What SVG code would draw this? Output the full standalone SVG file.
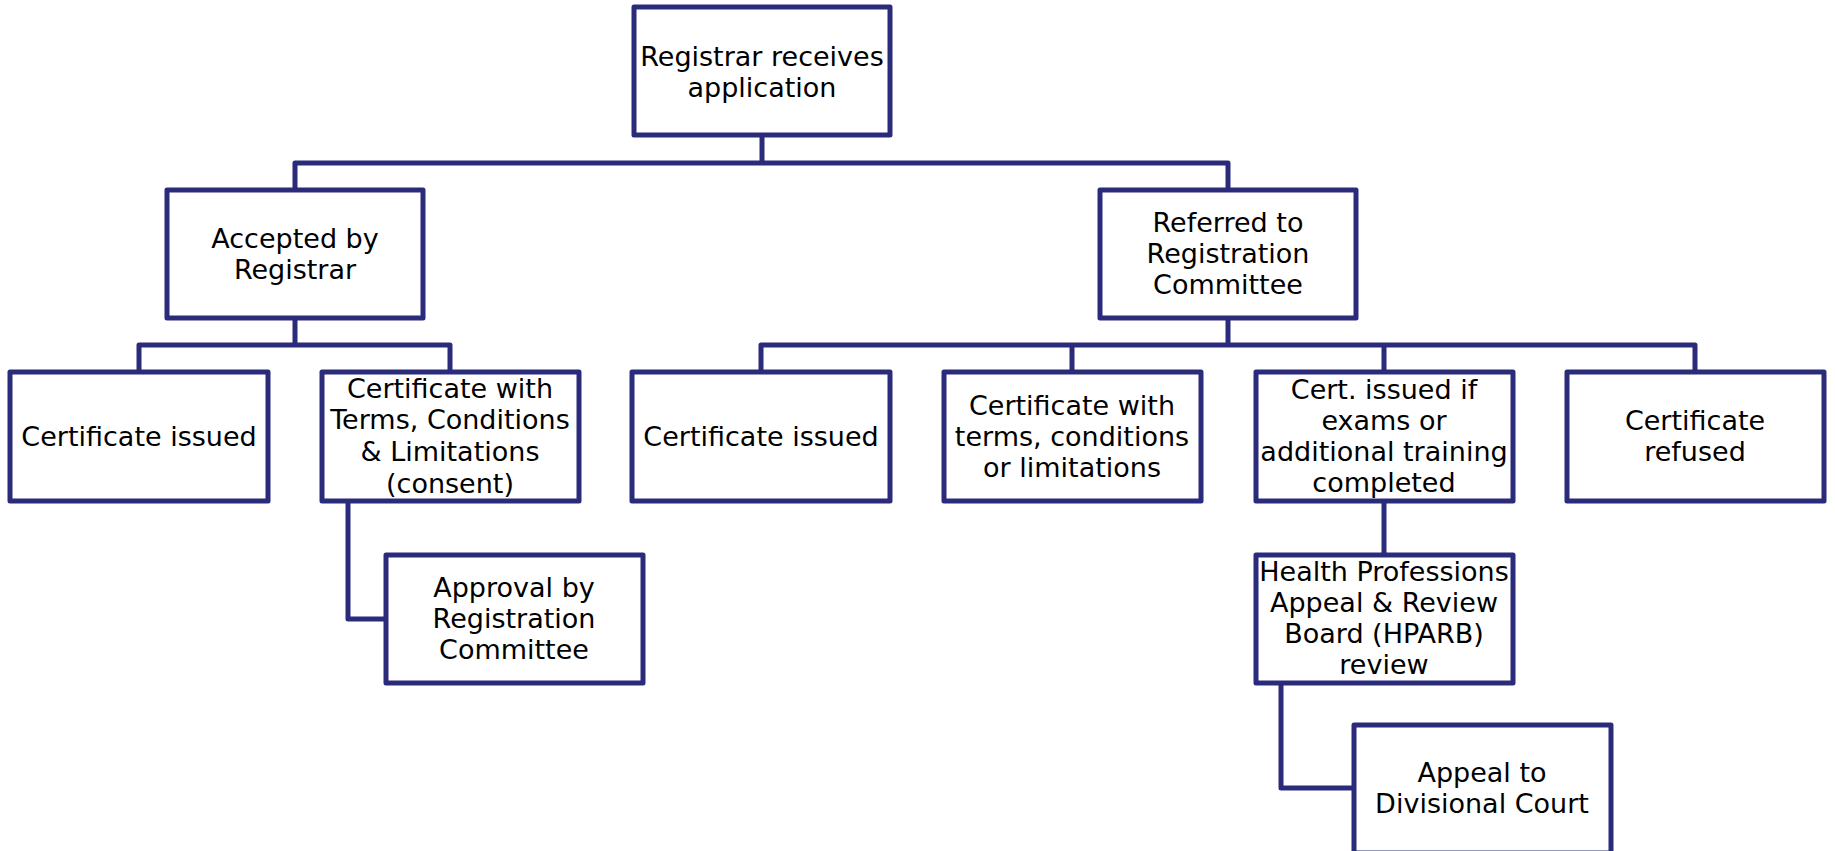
<svg xmlns="http://www.w3.org/2000/svg" width="1835" height="851" viewBox="0 0 1835 851">
<style>
.box{fill:#fff;stroke:#2b2b7c;stroke-width:5;stroke-linejoin:round}
.con{fill:none;stroke:#2b2b7c;stroke-width:5;stroke-linejoin:round}
text{font-family:"DejaVu Sans",sans-serif;font-size:27px;fill:#000;text-anchor:middle}
</style>
<rect width="1835" height="851" fill="#fff"/>
<g id="connectors">
<path class="con" d="M762 135V163M295 190V163H1228V190"/>
<path class="con" d="M295 318V345M139 372V345H450V372"/>
<path class="con" d="M1228 318V345M761 372V345H1695V372M1072 345V372M1384 345V372"/>
<path class="con" d="M348 501V619H386"/>
<path class="con" d="M1384 501V555"/>
<path class="con" d="M1281 683V788H1354"/>
</g>
<g id="n-top"><rect class="box" x="634" y="7" width="256" height="128"/>
<text x="762" y="66">Registrar receives</text><text x="762" y="97">application</text></g>
<g id="n-accepted"><rect class="box" x="167" y="190" width="256" height="128"/>
<text x="295" y="248">Accepted by</text><text x="295" y="279">Registrar</text></g>
<g id="n-referred"><rect class="box" x="1100" y="190" width="256" height="128"/>
<text x="1228" y="232">Referred to</text><text x="1228" y="263">Registration</text><text x="1228" y="294">Committee</text></g>
<g id="n-ci1"><rect class="box" x="10" y="372" width="258" height="129"/>
<text x="139" y="446">Certificate issued</text></g>
<g id="n-tcl"><rect class="box" x="322" y="372" width="257" height="129"/>
<text x="450" y="398">Certificate with</text><text x="450" y="429">Terms, Conditions</text><text x="450" y="461">&amp; Limitations</text><text x="450" y="493">(consent)</text></g>
<g id="n-ci2"><rect class="box" x="632" y="372" width="258" height="129"/>
<text x="761" y="446">Certificate issued</text></g>
<g id="n-cwt"><rect class="box" x="944" y="372" width="257" height="129"/>
<text x="1072" y="415">Certificate with</text><text x="1072" y="446">terms, conditions</text><text x="1072" y="477">or limitations</text></g>
<g id="n-exams"><rect class="box" x="1256" y="372" width="257" height="129"/>
<text x="1384" y="399">Cert. issued if</text><text x="1384" y="430">exams or</text><text x="1384" y="461">additional training</text><text x="1384" y="492">completed</text></g>
<g id="n-refused"><rect class="box" x="1567" y="372" width="257" height="129"/>
<text x="1695" y="430">Certificate</text><text x="1695" y="461">refused</text></g>
<g id="n-approval"><rect class="box" x="386" y="555" width="257" height="128"/>
<text x="514" y="597">Approval by</text><text x="514" y="628">Registration</text><text x="514" y="659">Committee</text></g>
<g id="n-hparb"><rect class="box" x="1256" y="555" width="257" height="128"/>
<text x="1384" y="581">Health Professions</text><text x="1384" y="612">Appeal &amp; Review</text><text x="1384" y="643">Board (HPARB)</text><text x="1384" y="674">review</text></g>
<g id="n-appeal"><rect class="box" x="1354" y="725" width="257" height="128"/>
<text x="1482" y="782">Appeal to</text><text x="1482" y="813">Divisional Court</text></g>
</svg>
